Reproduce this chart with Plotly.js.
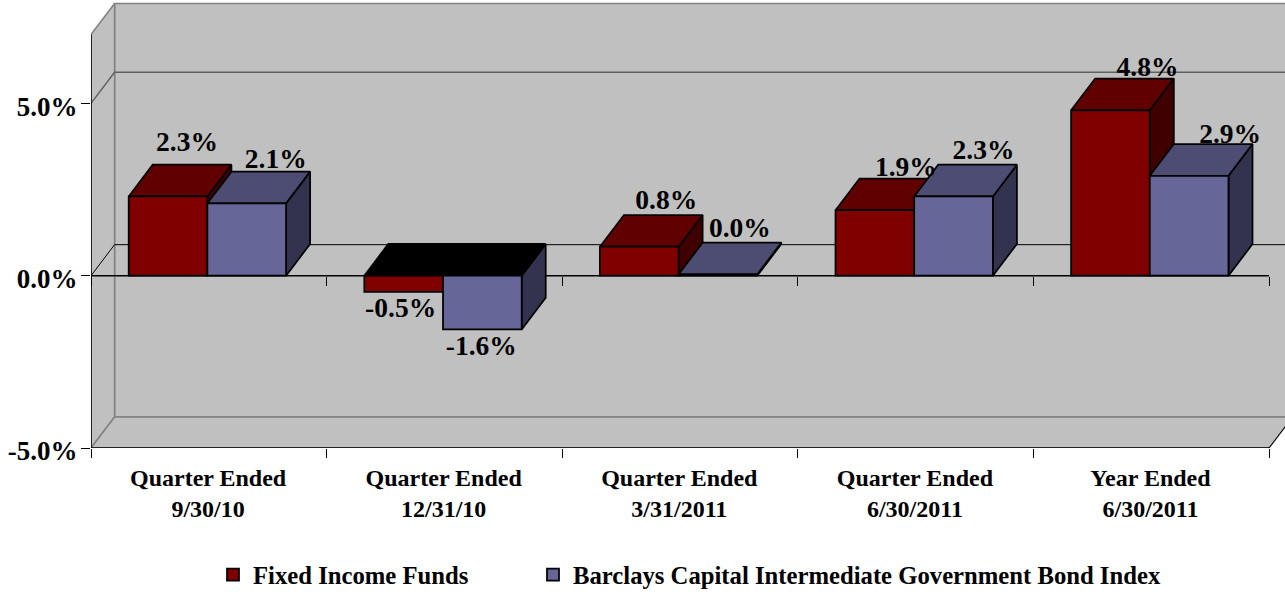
<!DOCTYPE html>
<html>
<head>
<meta charset="utf-8">
<script src="https://cdn.plot.ly/plotly-3.0.1.min.js"></script>
<style>html,body{margin:0;padding:0;background:#fff}</style>
</head>
<body>
<div id="chart" style="width:1285px;height:594px"></div>
<script>
const categories = ["Quarter Ended<br>9/30/10","Quarter Ended<br>12/31/10","Quarter Ended<br>3/31/2011","Quarter Ended<br>6/30/2011","Year Ended<br>6/30/2011"];
const seriesNames = ["Fixed Income Funds","Barclays Capital Intermediate Government Bond Index"];
const fundValues = [2.3,-0.47,0.84,1.9,4.8];
const indexValues = [2.1,-1.56,0.04,2.3,2.9];
const yTickVals = [-5,0,5];
const yTickText = ["-5.0%","0.0%","5.0%"];
const boundaries = [0,1,2,3,4,5];

// label nudges relative to each bar, in pixels
const fundLabelDx = [19,-3,27,31,37], fundLabelDy = [52,-18,45,41,41];
const indexLabelDx = [29,-1,22,30,41], indexLabelDy = [42,-19,44,44,40];

const PXX = 235.6, PXY = 34.46;
const xMax = 1194/PXX, yMin = -5, yMax = 8, wallTop = 7;
const wallDX = 0.1, wallDY = 0.9, barDX = 0.102, barDY = 0.92;
const groupCenter = 0.494, barW = 0.334;
const FONT = "'Liberation Serif','Times New Roman',serif";
const idx = categories.map((_,i)=>i);

function poly(pts){ return {x:pts.map(p=>p[0]).concat(null), y:pts.map(p=>p[1]).concat(null)}; }
function merge(list){ return {x:[].concat(...list.map(p=>p.x)), y:[].concat(...list.map(p=>p.y))}; }
function fillTrace(g,color,lineColor,lw,z){
  return {type:"scatter",mode:"lines",x:g.x,y:g.y,fill:"toself",fillcolor:color,
    line:{color:lineColor,width:lw},hoverinfo:"skip",showlegend:false,zorder:z};
}
function lineTrace(xs,ys,color,lw,z){
  return {type:"scatter",mode:"lines",x:xs,y:ys,line:{color:color,width:lw},hoverinfo:"skip",showlegend:false,zorder:z};
}

function seriesTraces(vals,name,left,cFront,cTop,cSide,z,dxs,dys,legendId){
  const sides=[],tops=[],darks=[];
  vals.forEach((v,i)=>{
    const x0=i+groupCenter+left, x1=x0+barW, t=Math.max(v,0), b=Math.min(v,0);
    sides.push(poly([[x1,t],[x1+barDX,t+barDY],[x1+barDX,b+barDY],[x1,b],[x1,t]]));
    const top=poly([[x0,t],[x1,t],[x1+barDX,t+barDY],[x0+barDX,t+barDY],[x0,t]]);
    (v<0?darks:tops).push(top);
  });
  return [
    fillTrace(merge(sides),cSide,"#000",1.75,z),
    fillTrace(merge(tops),cTop,"#000",1.75,z),
    fillTrace(merge(darks),"#000000","#000",1.75,z),
    {type:"bar",name:name,legend:legendId,x:idx.map(i=>i+groupCenter),y:vals,width:barW,offset:left,
     marker:{color:cFront,line:{color:"#000",width:1.75}},hoverinfo:"skip",zorder:z+1},
    {type:"scatter",mode:"text",x:vals.map((v,i)=>i+groupCenter+left+barW/2+dxs[i]/PXX),
     y:vals.map((v,i)=>v+dys[i]/PXY),text:vals.map(v=>v.toFixed(1)+"%"),
     textposition:"middle center",textfont:{family:FONT,size:27.5,color:"#000",weight:700},
     hoverinfo:"skip",showlegend:false,zorder:10,cliponaxis:false}
  ];
}

const WALL="#C0C0C0", EDGE="#808080";
const walls = [
  fillTrace(poly([[wallDX,yMin+wallDY],[wallDX,wallTop+wallDY],[xMax+1,wallTop+wallDY],[xMax+1,yMin+wallDY],[wallDX,yMin+wallDY]]),WALL,EDGE,1.5,0),
  fillTrace(poly([[0,yMin],[0,wallTop],[wallDX,wallTop+wallDY],[wallDX,yMin+wallDY],[0,yMin]]),WALL,EDGE,1.5,0),
  fillTrace(poly([[0,yMin],[5,yMin],[5+wallDX,yMin+wallDY],[wallDX,yMin+wallDY],[0,yMin]]),WALL,EDGE,1.5,0),
  lineTrace([0,wallDX,xMax+1],[5,5+wallDY,5+wallDY],"#606060",1.5,0),
  lineTrace([0,wallDX,xMax+1],[0,wallDY,wallDY],"#000",1,0),
  lineTrace([0,5],[0,0],"#000",1.5,0),
  lineTrace([0,5],[yMin,yMin],"#000",1.5,0),
  lineTrace([0,0],[yMin,wallTop],"#000",1.5,0),
  lineTrace([5,5+wallDX],[yMin,yMin+wallDY],"#000",1,0)
];

const axisHelpers = [
  {type:"scatter",mode:"none",x:[0],y:[0],xaxis:"x2",yaxis:"y",hoverinfo:"skip",showlegend:false},
  {type:"scatter",mode:"none",x:[0],y:[0],xaxis:"x3",yaxis:"y",hoverinfo:"skip",showlegend:false}
];

const data = walls
  .concat(seriesTraces(fundValues,seriesNames[0],-barW,"#800000","#600000","#400000",1,fundLabelDx,fundLabelDy,"legend"))
  .concat(seriesTraces(indexValues,seriesNames[1],0,"#666699","#4D4D73","#333350",3,indexLabelDx,indexLabelDy,"legend2"))
  .concat(axisHelpers);

const tickAxis = (extra)=>Object.assign({range:[0,xMax],tickmode:"array",tickvals:boundaries,ticktext:boundaries.map(()=>""),
  showticklabels:false,ticks:"outside",ticklen:9,tickwidth:1,tickcolor:"#000",showgrid:false,zeroline:false,showline:false,overlaying:"x"},extra);

const legendBase = (px)=>({orientation:"h",x:(px-91)/1194,xanchor:"left",y:(448-575)/448,yanchor:"middle",
  font:{family:FONT,size:24.7,color:"#000",weight:700},bgcolor:"rgba(0,0,0,0)",itemclick:false,itemdoubleclick:false});

const layout = {
  width:1285,height:594,autosize:false,
  margin:{l:91,r:0,t:0,b:146,pad:0,autoexpand:false},
  paper_bgcolor:"#fff",plot_bgcolor:"#fff",
  barmode:"overlay",
  showlegend:true,
  font:{family:FONT,color:"#000"},
  xaxis:{range:[0,xMax],tickmode:"array",tickvals:idx.map(i=>i+0.497),ticktext:categories,ticks:"",
    tickangle:0,showgrid:false,zeroline:false,showline:false,ticklabelstandoff:13,
    tickfont:{family:FONT,size:24,color:"#000",weight:700}},
  xaxis2:tickAxis({anchor:"y"}),
  xaxis3:tickAxis({anchor:"free",position:5/13}),
  yaxis:{range:[yMin,yMax],tickmode:"array",tickvals:yTickVals,ticktext:yTickText,ticks:"outside",ticklen:9,tickwidth:1,
    tickcolor:"#000",showgrid:false,zeroline:false,showline:false,ticklabelshift:3,ticklabelstandoff:-2,
    tickfont:{family:FONT,size:27,color:"#000",weight:700}},
  legend:legendBase(213),
  legend2:legendBase(533),
  hovermode:false
};
Plotly.newPlot("chart",data,layout,{displayModeBar:false,staticPlot:true});
</script>
</body>
</html>
